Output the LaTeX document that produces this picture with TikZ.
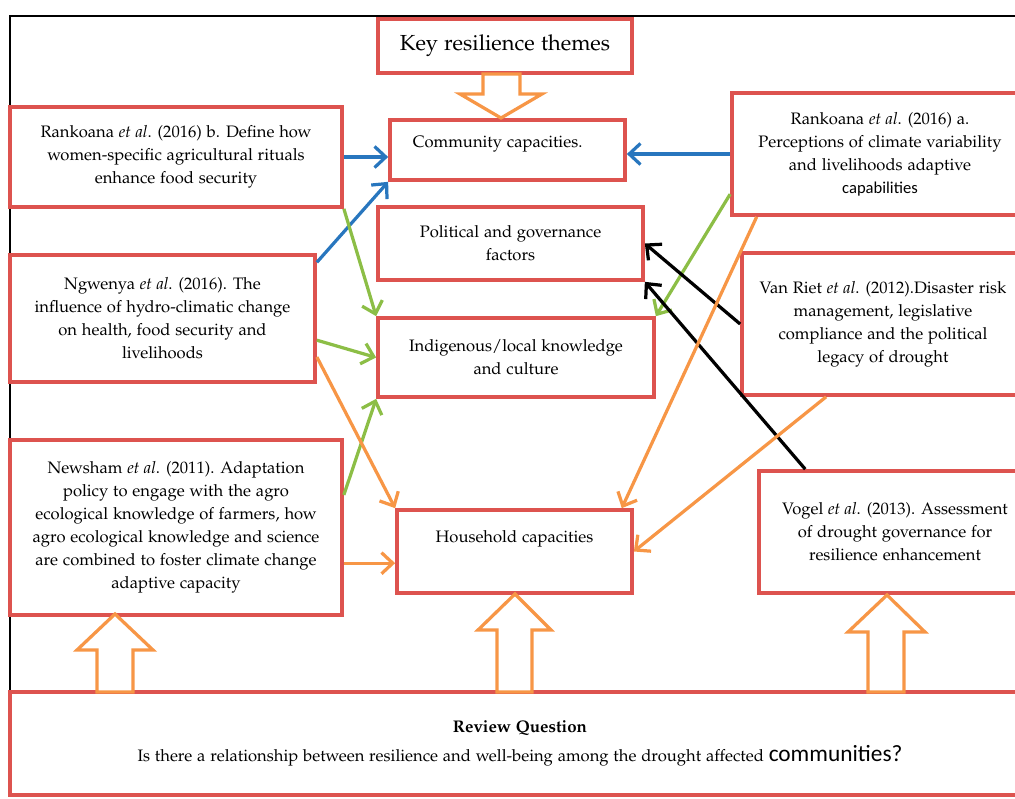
\documentclass[tikz,border=0pt]{standalone}
\usepackage[T1]{fontenc}
\usepackage{fontspec}
\usepackage{tikz}
\usetikzlibrary{arrows.meta}
\newfontfamily\calibrifont{Carlito}
\newcommand{\palfont}{\fontencoding{T1}\fontfamily{pplx}\selectfont}
\definecolor{boxred}{RGB}{221,83,79}
\definecolor{arrorange}{RGB}{247,150,70}
\definecolor{arrgreen}{RGB}{140,190,70}
\definecolor{arrblue}{RGB}{40,118,190}
\tikzstyle{themebox}=[draw=boxred, line width=2.6pt, fill=white, align=center, inner sep=2pt, font=\palfont\fontsize{11.8}{16.4}\selectfont]
\tikzstyle{link}=[line width=2.3pt, -{Straight Barb[length=8pt,width=15pt]}]
\tikzstyle{hollow}=[draw=arrorange, line width=2.3pt, fill=white]

\begin{document}
\begin{tikzpicture}[x=0.025cm,y=-0.025cm]
\useasboundingbox (0,0) rectangle (1015,798);
\clip (0,0) rectangle (1015,798);
\draw[line width=1.4pt] (10,16) rectangle (1030,795);
% themes in the middle
\node[themebox, minimum width=6.35cm, minimum height=1.35cm, font=\palfont\fontsize{15.5}{18}\selectfont] (key) at (505,46) {Key resilience themes};
\node[themebox, minimum width=5.875cm, minimum height=1.5cm] (comm) at (507.5,150) {\raisebox{4pt}[\height][\depth]{Community capacities.\hspace{14pt}}};
\node[themebox, minimum width=6.625cm, minimum height=1.825cm] (polit) at (510.5,243.5) {Political and governance\\factors};
\node[themebox, minimum width=6.9cm, minimum height=1.975cm] (indig) at (516,357.5) {Indigenous/local knowledge\\and culture};
\node[themebox, minimum width=5.875cm, minimum height=2.075cm] (house) at (514.5,551.5) {\raisebox{9pt}[\height][\depth]{Household capacities}};
% studies on the left
\node[themebox, minimum width=8.3cm, minimum height=2.5cm] (rankb) at (176,157) {Rankoana \textit{et al}. (2016) b. Define how\\women-specific agricultural rituals\\enhance food security};
\node[themebox, minimum width=7.625cm, minimum height=3.175cm] (ngw) at (162.5,318.5) {Ngwenya \textit{et al}. (2016). The\\influence of hydro-climatic change\\on health, food security and\\livelihoods};
\node[themebox, minimum width=8.3cm, minimum height=4.375cm] (news) at (176,527.5) {Newsham \textit{et al}. (2011). Adaptation\\policy to engage with the agro\\ecological knowledge of farmers, how\\agro ecological knowledge and science\\are combined to foster climate change\\adaptive capacity};
% studies on the right
\node[themebox, minimum width=7.4cm, minimum height=3.05cm] (ranka) at (880,154) {Rankoana \textit{et al}. (2016) a.\\Perceptions of climate variability\\and livelihoods adaptive\\{\calibrifont capabilities}};
\node[themebox, minimum width=7.05cm, minimum height=3.55cm] (vanriet) at (883,324) {Van Riet \textit{et al}. (2012).Disaster risk\\management, legislative\\compliance and the political\\legacy of drought};
\node[themebox, minimum width=6.8cm, minimum height=3.05cm] (vogel) at (895,532) {Vogel \textit{et al}. (2013). Assessment\\of drought governance for\\resilience enhancement};
% question
\node[themebox, minimum width=25.5cm, minimum height=2.575cm] (review) at (520,743.5) {{\bfseries\fontsize{12}{14}\selectfont Review Question}\\[4pt]Is there a relationship between resilience and well-being among the drought affected {\calibrifont\fontsize{16.6}{18}\selectfont communities?}};
% links
\draw[link, arrblue] (rankb.east) -- (rankb.east -| comm.west);
\draw[link, arrblue] (ngw.20) -- (comm.south west);
\draw[link, arrblue] (ranka.west) -- (ranka.west -| comm.east);
\draw[link, arrgreen] (rankb.south east) -- (indig.north west);
\draw[link, arrgreen] (ngw.-8) -- (indig.west);
\draw[link, arrgreen] (news.11) -- (indig.south west);
\draw[link, arrgreen] (ranka.195) -- (indig.north east);
\draw[link] (vanriet.west) -- (polit.east);
\draw[link] (vogel.145) -- (polit.south east);
\draw[link, arrorange] (ngw.-14) -- (house.north west);
\draw[link, arrorange] (news.-12) -- (news.-12 -| house.west);
\draw[link, arrorange] (ranka.207) -- (house.22);
\draw[link, arrorange] (vanriet.232) -- (house.east);
% block arrows
\draw[hollow] (483,74) -- (483,94) -- (460,94) -- (501,118) -- (542,94) -- (520,94) -- (520,74) -- cycle;
\draw[hollow] (97,692) -- (97,650) -- (77,650) -- (115,614) -- (153,650) -- (133,650) -- (133,692) -- cycle;
\draw[hollow] (497,692) -- (497,630) -- (478,630) -- (515,594) -- (551,630) -- (532,630) -- (532,692) -- cycle;
\draw[hollow] (868,692) -- (868,632) -- (848,632) -- (887,595) -- (925,632) -- (904,632) -- (904,692) -- cycle;
\end{tikzpicture}
\end{document}
